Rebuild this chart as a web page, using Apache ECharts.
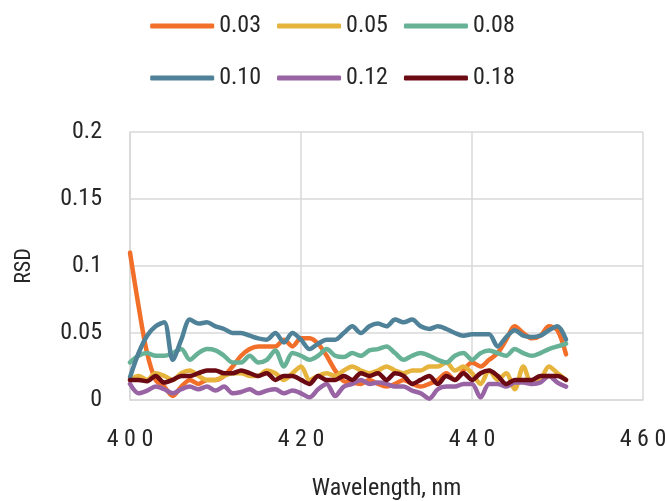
<!DOCTYPE html>
<html><head><meta charset="utf-8">
<script src="https://cdn.jsdelivr.net/npm/echarts@6/dist/echarts.min.js"></script>
<style>html,body{margin:0;padding:0;background:#fff}#c{width:665px;height:501px}</style>
</head><body><div id="c"></div>
<script>
var wavelengths = [400,401,402,403,404,405,406,407,408,409,410,411,412,413,414,415,416,417,418,419,420,421,422,423,424,425,426,427,428,429,430,431,432,433,434,435,436,437,438,439,440,441,442,443,444,445,446,447,448,449,450,451];
var s003 = [0.110,0.070,0.035,0.015,0.010,0.003,0.010,0.015,0.012,0.015,0.015,0.018,0.025,0.033,0.038,0.040,0.040,0.040,0.045,0.040,0.046,0.046,0.042,0.033,0.022,0.014,0.013,0.012,0.015,0.012,0.010,0.012,0.015,0.012,0.010,0.012,0.015,0.020,0.015,0.022,0.028,0.025,0.030,0.035,0.045,0.055,0.050,0.046,0.048,0.055,0.052,0.034];
var s005 = [0.015,0.018,0.015,0.020,0.018,0.015,0.020,0.022,0.018,0.015,0.015,0.018,0.020,0.020,0.018,0.018,0.022,0.020,0.015,0.020,0.025,0.015,0.018,0.020,0.018,0.022,0.025,0.022,0.020,0.022,0.025,0.022,0.020,0.022,0.022,0.025,0.025,0.028,0.022,0.025,0.020,0.012,0.022,0.015,0.020,0.008,0.025,0.012,0.015,0.025,0.020,0.015];
var s008 = [0.028,0.033,0.035,0.033,0.033,0.035,0.038,0.030,0.035,0.038,0.037,0.033,0.028,0.028,0.033,0.028,0.030,0.037,0.025,0.035,0.033,0.030,0.033,0.038,0.033,0.032,0.035,0.033,0.037,0.038,0.040,0.035,0.030,0.033,0.035,0.033,0.030,0.028,0.033,0.035,0.030,0.035,0.037,0.035,0.033,0.038,0.035,0.033,0.035,0.038,0.040,0.042];
var s010 = [0.017,0.035,0.048,0.055,0.058,0.030,0.045,0.060,0.057,0.058,0.055,0.053,0.050,0.050,0.048,0.046,0.045,0.050,0.043,0.050,0.045,0.038,0.042,0.045,0.045,0.050,0.055,0.050,0.055,0.057,0.055,0.060,0.058,0.060,0.055,0.053,0.055,0.053,0.050,0.048,0.049,0.049,0.049,0.040,0.047,0.052,0.048,0.047,0.048,0.052,0.055,0.045];
var s012 = [0.012,0.005,0.007,0.010,0.008,0.005,0.008,0.010,0.008,0.010,0.007,0.010,0.005,0.006,0.008,0.005,0.007,0.008,0.005,0.007,0.005,0.002,0.008,0.012,0.003,0.010,0.012,0.015,0.012,0.013,0.012,0.010,0.010,0.007,0.005,0.001,0.008,0.010,0.010,0.012,0.012,0.002,0.012,0.012,0.010,0.013,0.013,0.012,0.013,0.018,0.013,0.010];
var s018 = [0.015,0.015,0.014,0.018,0.013,0.015,0.018,0.018,0.020,0.022,0.022,0.020,0.020,0.022,0.020,0.018,0.020,0.015,0.018,0.018,0.015,0.012,0.018,0.015,0.015,0.018,0.015,0.020,0.018,0.020,0.015,0.020,0.018,0.012,0.015,0.018,0.012,0.018,0.015,0.020,0.015,0.020,0.022,0.018,0.012,0.015,0.015,0.015,0.018,0.018,0.018,0.015];
var seriesNames = ['0.03','0.05','0.08','0.10','0.12','0.18'];
var seriesData = [s003,s005,s008,s010,s012,s018];
var colors = ['#F26F2A','#E6B43C','#67B296','#4F8298','#9864A4','#6B0A12'];

var FONT = '"Roboto Condensed","Roboto",sans-serif';
var chart = echarts.init(document.getElementById('c'), null, {renderer:'canvas'});
var series = seriesNames.map(function(n,i){
  return {
    name:n, type:'line', smooth:0.3, symbol:'none',
    data: wavelengths.map(function(w,j){return [w, seriesData[i][j]];}),
    lineStyle:{width:4.5, color:colors[i], cap:'round', join:'round'},
    itemStyle:{color:colors[i]}
  };
});
function legend(names, top){
  return {
    data:names, top:top, left:'center', icon:'roundRect', itemWidth:64, itemHeight:5, itemGap:16,
    textStyle:{fontFamily:FONT, fontSize:24, color:'#262626'}
  };
}
chart.setOption({
  animation:false,
  color:colors,
  legend:[legend(['0.03','0.05','0.08'], 9), legend(['0.10','0.12','0.18'], 61)],
  grid:{left:130, right:22, top:132, bottom:101, containLabel:false, outerBoundsMode:'none'},
  xAxis:{
    type:'value', min:400, max:460, interval:20,
    name:'Wavelength, nm', nameLocation:'middle', nameGap:77,
    nameTextStyle:{fontFamily:FONT, fontSize:24, color:'#262626'},
    axisLine:{show:true, lineStyle:{color:'#d9d9d9', width:1.5}},
    axisTick:{show:false},
    axisLabel:{fontFamily:FONT, fontSize:24, color:'#262626', margin:28,
      formatter:function(v){return String(v).split('').join('\u2005');}},
    splitLine:{show:true, lineStyle:{color:'#d9d9d9', width:1.5}}
  },
  yAxis:{
    type:'value', min:0, max:0.2, interval:0.05,
    name:'RSD', nameLocation:'middle', nameGap:95,
    nameTextStyle:{fontFamily:FONT, fontSize:22, color:'#262626'},
    axisLine:{show:true, lineStyle:{color:'#d9d9d9', width:1.5}},
    axisTick:{show:false},
    axisLabel:{fontFamily:FONT, fontSize:24, color:'#262626', margin:28,
      formatter:function(v){return String(Math.round(v*100)/100);}},
    splitLine:{show:true, lineStyle:{color:'#d9d9d9', width:1.5}}
  },
  series:series
});
</script></body></html>
